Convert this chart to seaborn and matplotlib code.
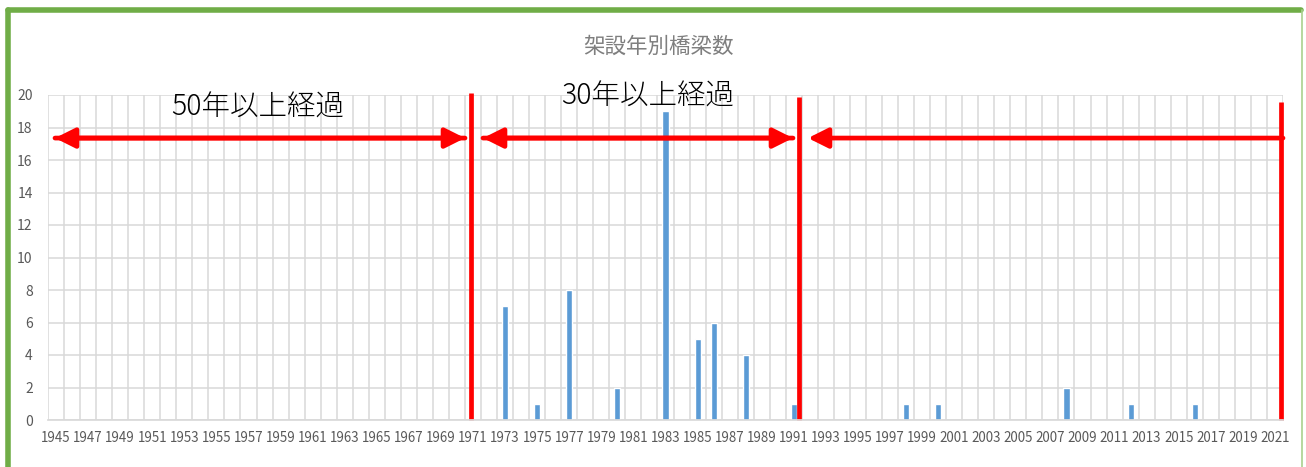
import matplotlib
matplotlib.use("Agg")
import matplotlib.pyplot as plt
import seaborn as sns
import pandas as pd
from matplotlib.lines import Line2D

years = list(range(1945, 2022))
bar_years = [1973, 1975, 1977, 1980, 1983, 1985, 1986, 1988, 1991, 1998, 2000, 2008, 2012, 2016]
bar_counts = [7, 1, 8, 2, 19, 5, 6, 4, 1, 1, 1, 2, 1, 1]
title = "架設年別橋梁数"
label_50 = "50年以上経過"
label_30 = "30年以上経過"

counts = {y: 0 for y in years}
for y, c in zip(bar_years, bar_counts):
    counts[y] = c
df = pd.DataFrame({"year": [str(y) for y in years], "count": [counts[y] for y in years]})

sns.set_theme(style="white")
plt.rcParams['font.family'] = ['Noto Sans CJK JP', 'DejaVu Sans']

fig = plt.figure(figsize=(13.06, 4.67), dpi=100)
ax = fig.add_axes([48/1306, 1-420/467, (1283-48)/1306, (420-95)/467])

sns.barplot(data=df, x="year", y="count", order=[str(y) for y in years],
            color="#5B9BD5", width=0.38, ax=ax, saturation=1)

n = len(years)
ax.set_xlim(-0.5, n - 0.5)
ax.set_ylim(0, 20)
ax.set_yticks(range(0, 21, 2))
ax.set_xticks(range(0, n, 2))
ax.set_xticklabels([str(y) for y in years[::2]])
ax.set_xticks([i - 0.5 for i in range(n + 1)], minor=True)
ax.grid(True, which="minor", axis="x", color="#d9d9d9", lw=1.1)
ax.grid(True, which="major", axis="y", color="#d9d9d9", lw=1.1)
ax.set_axisbelow(True)
ax.tick_params(axis="x", which="both", length=0, labelsize=9.6, colors="#595959", pad=8)
ax.tick_params(axis="y", length=0, labelsize=10, colors="#595959", pad=11)
ax.set_xlabel("")
ax.set_ylabel("")
for s in ["top", "right", "left"]:
    ax.spines[s].set_visible(False)
ax.spines["bottom"].set_color("#d9d9d9")

def px2x(px):
    return (px - 48) / ((1283 - 48) / n) - 0.5

red = "#FF0000"
# vertical red lines
ax.plot([px2x(471)] * 2, [0, 20.1], color=red, lw=3.4, clip_on=False, solid_capstyle="butt")
ax.plot([px2x(799)] * 2, [0, 19.9], color=red, lw=3.4, clip_on=False, solid_capstyle="butt")
ax.plot([px2x(1281)] * 2, [0, 19.55], color=red, lw=3.4, clip_on=False, solid_capstyle="butt")

ya = 17.35
arrow_kw = dict(color=red, lw=3.4, shrinkA=0, shrinkB=0)
style = "-|>,head_length=1.0,head_width=0.5"
for a, b in [(55, 465), (465, 55), (483, 793), (793, 483), (808, 1283)]:
    ax.annotate("", xy=(px2x(a), ya), xytext=(px2x(b), ya),
                arrowprops=dict(arrowstyle=style, **arrow_kw))

ax.text(px2x(258), 19.25, label_50, ha="center", va="center", fontsize=20.5,
        color="#000000", fontweight="light")
ax.text(px2x(648), 19.9, label_30, ha="center", va="center", fontsize=20.5,
        color="#000000", fontweight="light")

fig.text(658/1306, 1-47/467, title, ha="center", va="center", fontsize=15.5, color="#7f7f7f")

# green frame
green = "#70AD47"
fig.add_artist(Line2D([8/1306, 1301/1306], [1-9.5/467, 1-9.5/467], transform=fig.transFigure, color=green, lw=4))
fig.add_artist(Line2D([8/1306, 8/1306], [0, 1-9.5/467], transform=fig.transFigure, color=green, lw=4))
fig.add_artist(Line2D([1302/1306, 1302/1306], [0, 1-9.5/467], transform=fig.transFigure, color="#a9d18e", lw=1.2))

fig.savefig("out.png", dpi=100)
